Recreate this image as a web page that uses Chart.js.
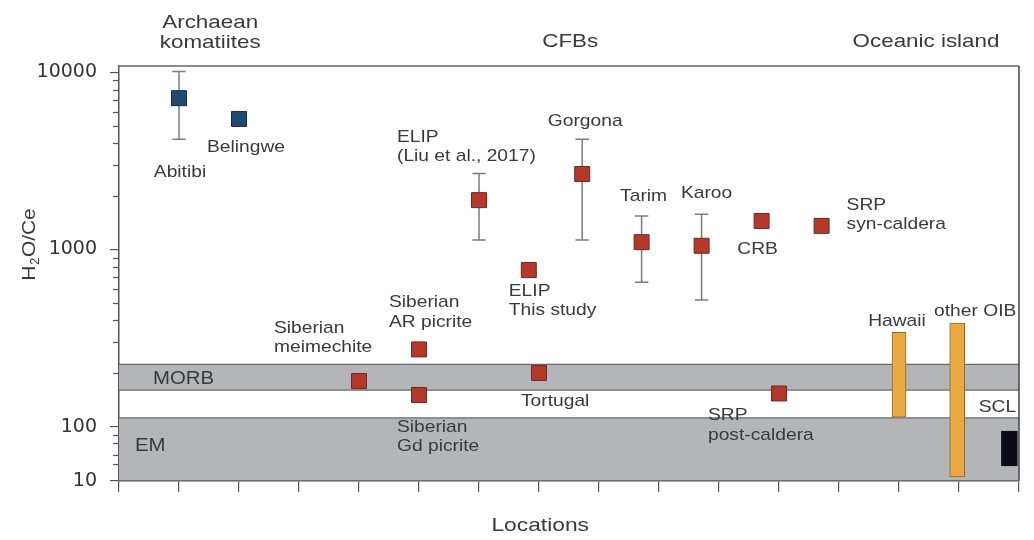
<!DOCTYPE html>
<html>
<head>
<meta charset="utf-8">
<script src="https://cdn.jsdelivr.net/npm/chart.js@4.4.1/dist/chart.umd.min.js"></script>
<style>
  html, body { margin: 0; padding: 0; background: #fff; }
  #wrap { width: 1034px; height: 540px; }
</style>
</head>
<body>
<div id="wrap"><canvas id="grafico" width="1034" height="540"></canvas></div>
<script>
// H2O/Ce
const sites = ['Abitibi', 'Belingwe', 'Siberian\nmeimechite', 'Siberian\nAR picrite', 'Siberian\nGd picrite',
  'ELIP\n(Liu et al., 2017)', 'ELIP\nThis study', 'Tortugal', 'Gorgona', 'Tarim', 'Karoo', 'CRB',
  'SRP\nsyn-caldera', 'SRP\npost-caldera'];
const sitePos = [1, 2, 4, 5, 5, 6, 6.83, 7, 7.72, 8.71, 9.71, 10.71, 11.71, 11];
const h2oCe = [7150, 5460, 181, 273, 151, 1900, 766, 201, 2670, 1100, 1050, 1450, 1360, 154];
const errLow = [4190, null, null, null, null, 1130, null, null, 1130, 653, 519, null, null, null];
const errHigh = [10100, null, null, null, null, 2690, null, null, 4190, 1545, 1580, null, null, null];
const siteGroup = ['komatiite', 'komatiite', 'cfb', 'cfb', 'cfb', 'cfb', 'cfb', 'cfb', 'cfb', 'cfb', 'cfb', 'cfb', 'cfb', 'cfb'];

// vertical ranges
const rangeNames = ['Hawaii', 'other OIB', 'SCL'];
const rangePos = [13, 13.97, 14.84];
const rangeLow = [113, 11.8, 18.8];
const rangeHigh = [341, 385, 82.8];

// horizontal bands
const bandNames = ['MORB', 'EM'];
const bandLow = [161, 10];
const bandHigh = [225, 112];

const yTicks = [10, 100, 1000, 10000];
const yMinor = [20, 30, 50, 70, 200, 300, 400, 500, 600, 700, 800, 900,
  2000, 3000, 4000, 5000, 6000, 7000, 8000, 9000];
const groupTitles = ['Archaean\nkomatiites', 'CFBs', 'Oceanic island'];
const groupTitlePos = [1.52, 7.52, 13.45];

// --- layout / style (not data) ---
const siteLabelLayout = [
  [1, 74, 'center'], [7, 28, 'center'], [-85, -53, 'left'], [-30, -47, 'left'], [-22, 32, 'left'],
  [-82, -63, 'left'], [-20, 21, 'left'], [-18, 28, 'left'], [3, -53, 'center'], [2, -46, 'center'],
  [5, -52, 'center'], [-4, 28, 'center'], [25, -21, 'left'], [-71, 22, 'left']
];
const rangeLabelLayout = [[-2, -11], [18, -12], [-12, -24]];
const rangeColors = ['#e9aa41', '#e9aa41', '#0b0b18'];
const rangeBorders = ['#8b6a2e', '#8b6a2e', '#0b0b18'];
const rangeWidths = [14, 15, 16];
const bandLabelLayout = [[34, 2], [16, -3]];
const groupTitleY = [-43, -24, -24];

const TXT = '#3a3a3a';
const FONT = '"Liberation Sans", Arial, sans-serif';

// the 10-100 decade is squeezed on this axis
const LOW_DECADE = 0.305;
function yPos(v) {
  const l = Math.log10(v);
  return l >= 2 ? l : 2 - (2 - l) * LOW_DECADE;
}

function drawText(ctx, text, x, y, align, size, sx) {
  ctx.save();
  ctx.font = size + 'px ' + FONT;
  ctx.textBaseline = 'middle';
  ctx.textAlign = 'left';
  ctx.fillStyle = TXT;
  const w = ctx.measureText(text).width * sx;
  const left = align === 'center' ? x - w / 2 : x;
  ctx.translate(left, y);
  ctx.scale(sx, 1);
  ctx.fillText(text, 0, 0);
  ctx.restore();
}

function drawLines(ctx, text, x, y, align, size, sx) {
  text.split('\n').forEach((line, k) => drawText(ctx, line, x, y + k * 19.5, align, size, sx));
}

// datasets
const datasets = [];
bandNames.forEach((n, i) => {
  datasets.push({
    type: 'line', label: n + ' top',
    data: [{ x: 0, y: yPos(bandHigh[i]) }, { x: 15, y: yPos(bandHigh[i]) }],
    borderColor: '#6a6a6a', borderWidth: 1.3, pointRadius: 0, fill: false, order: 9
  });
  datasets.push({
    type: 'line', label: n,
    data: [{ x: 0, y: yPos(bandLow[i]) }, { x: 15, y: yPos(bandLow[i]) }],
    borderColor: '#6a6a6a', borderWidth: 1.3, pointRadius: 0,
    fill: '-1', backgroundColor: '#b3b5b9', order: 9
  });
});

rangeNames.forEach((n, i) => {
  datasets.push({
    type: 'bar', label: n,
    data: [{ x: rangePos[i], y: [yPos(rangeLow[i]), yPos(rangeHigh[i])] }],
    backgroundColor: rangeColors[i], borderColor: rangeBorders[i], borderWidth: 1,
    borderSkipped: false, barThickness: rangeWidths[i], grouped: false, order: 5
  });
});

const errData = [];
sites.forEach((s, i) => {
  if (errLow[i] != null) {
    errData.push({ x: sitePos[i], y: yPos(errLow[i]) });
    errData.push({ x: sitePos[i], y: yPos(errHigh[i]) });
    errData.push({ x: sitePos[i], y: null });
  }
});
datasets.push({
  type: 'line', label: 'range', data: errData,
  borderColor: '#7b7b7b', borderWidth: 1.5, spanGaps: false, fill: false,
  pointStyle: 'line', pointRadius: 6.7, pointBorderColor: '#7b7b7b', pointBorderWidth: 1.5, order: 3
});

const groupStyle = {
  komatiite: ['#1f4b73', '#142f47'],
  cfb: ['#b5392b', '#6e2a22']
};
Object.keys(groupStyle).forEach(g => {
  datasets.push({
    type: 'scatter', label: g,
    data: sites.map((s, i) => siteGroup[i] === g ? { x: sitePos[i], y: yPos(h2oCe[i]) } : null).filter(p => p),
    pointStyle: 'rect', pointRadius: 10.6,
    pointBackgroundColor: groupStyle[g][0], pointBorderColor: groupStyle[g][1], pointBorderWidth: 1, order: 1
  });
});

const decorations = {
  id: 'decorations',
  afterDraw(chart) {
    const ctx = chart.ctx;
    const xs = chart.scales.x, ys = chart.scales.y;
    const a = chart.chartArea;

    // frame top / right
    ctx.save();
    ctx.strokeStyle = '#8c8c8c';
    ctx.lineWidth = 2;
    ctx.beginPath(); ctx.moveTo(a.left, a.top); ctx.lineTo(a.right, a.top); ctx.stroke();
    ctx.strokeStyle = '#444';
    ctx.lineWidth = 1.5;
    ctx.beginPath(); ctx.moveTo(a.right, a.top); ctx.lineTo(a.right, a.bottom); ctx.stroke();

    // minor y ticks
    ctx.strokeStyle = '#555';
    ctx.lineWidth = 1.2;
    yMinor.forEach(v => {
      const py = Math.round(ys.getPixelForValue(yPos(v))) + 0.5;
      ctx.beginPath(); ctx.moveTo(a.left - 6, py); ctx.lineTo(a.left, py); ctx.stroke();
    });
    ctx.restore();

    // site labels
    sites.forEach((s, i) => {
      const px = xs.getPixelForValue(sitePos[i]);
      const py = ys.getPixelForValue(yPos(h2oCe[i]));
      const L = siteLabelLayout[i];
      drawLines(ctx, s, px + L[0], py + L[1], L[2], 17, 1.13);
    });

    rangeNames.forEach((n, i) => {
      const px = xs.getPixelForValue(rangePos[i]);
      const py = ys.getPixelForValue(yPos(rangeHigh[i]));
      drawText(ctx, n, px + rangeLabelLayout[i][0], py + rangeLabelLayout[i][1], 'center', 17, 1.13);
    });

    bandNames.forEach((n, i) => {
      const py = (ys.getPixelForValue(yPos(bandLow[i])) + ys.getPixelForValue(yPos(bandHigh[i]))) / 2;
      drawText(ctx, n, a.left + bandLabelLayout[i][0], py + bandLabelLayout[i][1], 'left', 18, 1.13);
    });

    groupTitles.forEach((t, i) => {
      drawLines(ctx, t, xs.getPixelForValue(groupTitlePos[i]), a.top + groupTitleY[i], 'center', 18.5, 1.21);
    });

    // axis titles
    drawText(ctx, 'Locations', xs.getPixelForValue(7.02), a.bottom + 45, 'center', 19, 1.2);

    ctx.save();
    ctx.translate(30, a.top + 178.5);
    ctx.rotate(-Math.PI / 2);
    ctx.scale(1.1, 1);
    ctx.fillStyle = TXT;
    ctx.textBaseline = 'middle';
    ctx.font = '19px ' + FONT;
    const wH = ctx.measureText('H').width;
    const wRest = ctx.measureText('O/Ce').width;
    ctx.font = '12px ' + FONT;
    const w2 = ctx.measureText('2').width + 1;
    let x0 = -(wH + w2 + wRest) / 2;
    ctx.font = '19px ' + FONT;
    ctx.fillText('H', x0, 0);
    ctx.font = '12px ' + FONT;
    ctx.fillText('2', x0 + wH + 0.5, 6);
    ctx.font = '19px ' + FONT;
    ctx.fillText('O/Ce', x0 + wH + w2, 0);
    ctx.restore();
  }
};

const grafico = document.getElementById('grafico');
new Chart(grafico, {
  type: 'scatter',
  data: { datasets: datasets },
  options: {
    responsive: false,
    animation: false,
    layout: { padding: { top: 66, right: 15, left: 0, bottom: 0 } },
    plugins: { legend: { display: false }, tooltip: { enabled: false } },
    scales: {
      x: {
        type: 'linear', min: 0, max: 15, offset: false,
        ticks: { stepSize: 1, display: false },
        grid: { drawOnChartArea: false, drawTicks: true, tickLength: 11, color: '#555', lineWidth: 1.2, offset: false },
        border: { display: true, color: '#555', width: 1.5 },
        afterFit(s) { s.height = 59.3; }
      },
      y: {
        type: 'linear', min: yPos(10), max: 4.036,
        afterBuildTicks(s) { s.ticks = yTicks.map(v => ({ value: yPos(v) })); },
        ticks: {
          autoSkip: false, padding: 13, color: '#333',
          font: { family: '"DejaVu Sans", sans-serif', size: 19 },
          callback(val) {
            const i = yTicks.findIndex(v => Math.abs(yPos(v) - val) < 1e-6);
            return i >= 0 ? String(yTicks[i]) : '';
          }
        },
        grid: { drawOnChartArea: false, drawTicks: true, tickLength: 9, color: '#555', lineWidth: 1.2 },
        border: { display: true, color: '#555', width: 1.5 },
        afterFit(s) { s.width = 119; }
      }
    }
  },
  plugins: [decorations]
});
</script>
</body>
</html>
